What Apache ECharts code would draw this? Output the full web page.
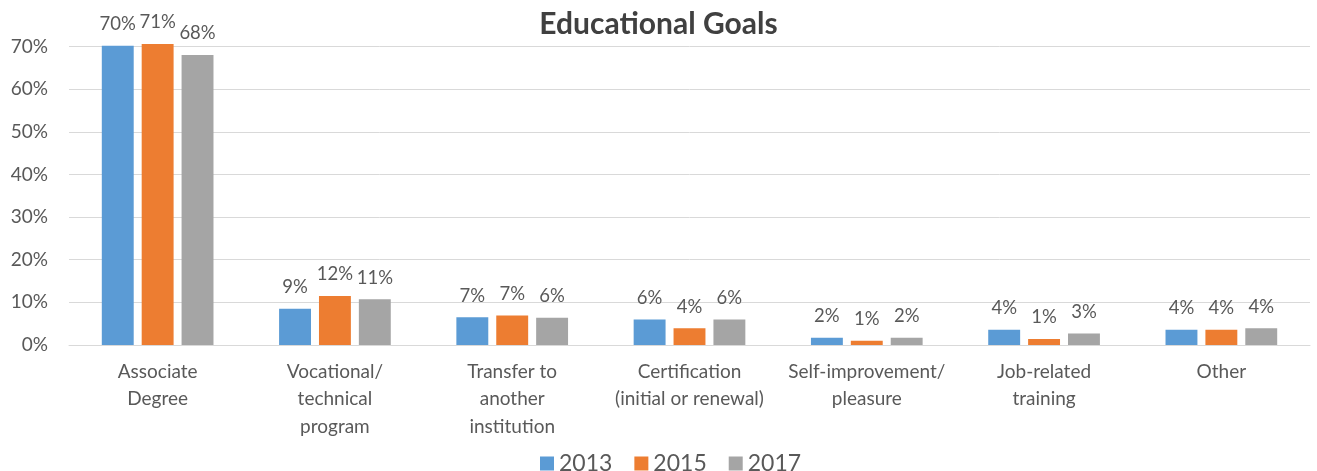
<!DOCTYPE html>
<html>
<head>
<meta charset="utf-8">
<script src="https://cdn.jsdelivr.net/npm/echarts@6/dist/echarts.min.js"></script>
<style>html,body{margin:0;padding:0;background:#fff}#c{width:1317px;height:471px}</style>
</head>
<body>
<div id="c"></div>
<script>
const categories = ["Associate\nDegree", "Vocational/\ntechnical\nprogram", "Transfer to\nanother\ninstitution", "Certification\n(initial or renewal)", "Self-improvement/\npleasure", "Job-related\ntraining", "Other"];
const years = ["2013", "2015", "2017"];
const values2013 = [70.2, 8.5, 6.5, 6.0, 1.7, 3.6, 3.6];
const values2015 = [70.6, 11.5, 6.9, 3.9, 1.0, 1.4, 3.6];
const values2017 = [68.0, 10.7, 6.4, 6.0, 1.7, 2.7, 3.9];
const yTicks = [0, 10, 20, 30, 40, 50, 60, 70];

const colors = ["#5B9BD5", "#ED7D31", "#A5A5A5"];
const font = "Lato, 'Open Sans', sans-serif";
const txt = "#595959";

const chart = echarts.init(document.getElementById('c'));
const seriesData = [values2013, values2015, values2017];
chart.setOption({
  animation: false,
  title: {
    text: "Educational Goals", left: 'center', top: 4,
    textStyle: { fontFamily: font, fontSize: 30, fontWeight: 'bold', color: '#404040' }
  },
  legend: {
    data: years, top: 447, left: 535, itemWidth: 14, itemHeight: 14, itemGap: 22,
    icon: 'rect',
    textStyle: { fontFamily: font, fontSize: 23, color: txt }
  },
  grid: { left: 69, right: 7, top: 46.5, bottom: 126, containLabel: false },
  xAxis: {
    type: 'category', data: categories,
    axisLine: { lineStyle: { color: '#D9D9D9', width: 1 } },
    axisTick: { show: false },
    axisLabel: { interval: 0, margin: 13, fontFamily: font, fontSize: 19, lineHeight: 27.5, color: txt }
  },
  yAxis: {
    type: 'value', min: yTicks[0], max: yTicks[yTicks.length - 1], interval: 10,
    axisLine: { show: false }, axisTick: { show: false },
    splitLine: { lineStyle: { color: '#D9D9D9', width: 1 } },
    axisLabel: { formatter: v => v + '%', fontFamily: font, fontSize: 19, color: txt, margin: 21 }
  },
  series: years.map((y, i) => ({
    name: y, type: 'bar', data: seriesData[i], clip: false,
    itemStyle: { color: colors[i] },
    barGap: '25%', barCategoryGap: '37%',
    label: {
      show: true, position: 'top', distance: 12,
      formatter: p => Math.round(p.value) + '%',
      fontFamily: font, fontSize: 18.5, color: txt
    }
  }))
});
</script>
</body>
</html>
